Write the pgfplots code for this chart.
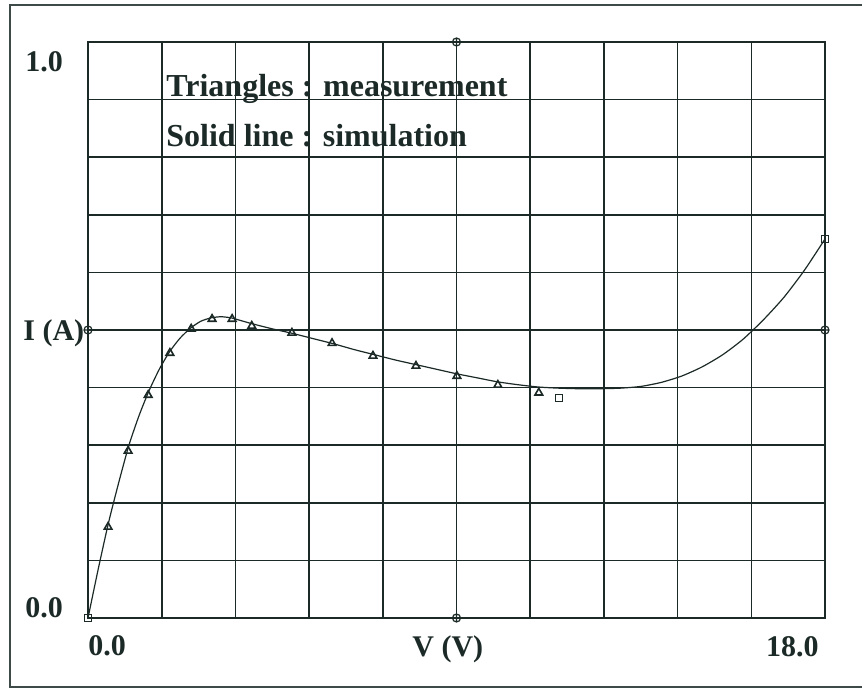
\documentclass[border=0pt]{standalone}
\usepackage{fontspec}
\setmainfont{Liberation Serif}
\usepackage{pgfplots}
\pgfplotsset{compat=1.18}
\definecolor{ink}{RGB}{28,42,39}
\begin{document}
\begin{tikzpicture}
\useasboundingbox (0pt,0pt) rectangle (431pt,344pt);
\draw[ink!85, line width=0.6pt] (436pt,341.5pt) -- (5pt,341.5pt) -- (5pt,0.5pt) -- (436pt,0.5pt);
\begin{axis}[
  at={(44pt,35pt)}, anchor=south west,
  scale only axis, width=368.5pt, height=288pt,
  xmin=0, xmax=18, ymin=0, ymax=1,
  xtick={0,1.8,3.6,5.4,7.2,9,10.8,12.6,14.4,16.2,18},
  ytick={0,0.1,0.2,0.3,0.4,0.5,0.6,0.7,0.8,0.9,1},
  xticklabels={}, yticklabels={},
  major tick length=0pt,
  grid=major,
  major grid style={ink, line width=0.8pt},
  axis line style={ink, line width=1pt},
  clip=false,
]
\addplot[ink, line width=0.6pt, smooth, tension=0.4] coordinates {
 (0,0) (0.25,0.085) (0.5,0.165) (0.75,0.235) (1.0,0.300) (1.25,0.352)
 (1.5,0.396) (1.75,0.433) (2.0,0.463) (2.25,0.486) (2.5,0.503) (2.75,0.515)
 (3.0,0.521) (3.25,0.523) (3.5,0.521) (3.75,0.516)
 (4.0,0.511) (4.5,0.502) (5,0.494) (5.5,0.485) (6,0.476) (6.5,0.466) (7,0.457)
 (7.5,0.448) (8,0.440) (8.5,0.432) (9,0.424) (9.5,0.417) (10,0.410) (10.5,0.405)
 (11,0.401) (11.5,0.399) (12,0.398) (12.5,0.398) (13,0.399) (13.5,0.402) (14,0.409) (14.5,0.420)
 (15,0.436) (15.5,0.457) (16,0.484) (16.5,0.518) (17,0.557) (17.5,0.604) (18,0.658)
};
\addplot[only marks, mark=triangle, mark size=2.2pt, mark options={ink, line width=0.8pt}] coordinates {
 (0.49,0.158) (0.98,0.290) (1.47,0.387) (2.0,0.460) (2.52,0.502) (3.03,0.519)
 (3.52,0.519) (4.0,0.507) (4.98,0.495) (5.96,0.477) (6.96,0.455) (8.01,0.4375)
 (9.01,0.420) (10.01,0.4045) (11.01,0.391)
};
\addplot[only marks, mark=square, mark size=1.8pt, mark options={ink, line width=0.6pt}] coordinates {
 (0,0) (11.5,0.382) (18,0.658)
};
\addplot[only marks, mark=oplus, mark size=2pt, mark options={ink, line width=0.6pt, fill=white}] coordinates {
 (9,1) (0,0.5) (18,0.5) (9,0)
};
\end{axis}
\tikzset{lab/.style={inner sep=0pt, text=ink, font=\bfseries\fontsize{15}{18}\selectfont}}
\node[lab, anchor=base west] at (12.5pt,308pt) {1.0};
\node[lab, anchor=base west] at (12.5pt,35pt) {0.0};
\node[lab, anchor=base west] at (11.5pt,173.5pt) {I (A)};
\node[lab, anchor=base west] at (44pt,16pt) {0.0};
\node[lab, anchor=base west] at (206pt,15.5pt) {V (V)};
\node[lab, anchor=base east] at (409.5pt,15.5pt) {18.0};
\node[lab, anchor=base west, font=\bfseries\fontsize{16}{19}\selectfont] at (83pt,295.5pt) {Triangles : measurement};
\node[lab, anchor=base west, font=\bfseries\fontsize{16}{19}\selectfont] at (83pt,270.5pt) {Solid line : simulation};
\end{tikzpicture}
\end{document}
